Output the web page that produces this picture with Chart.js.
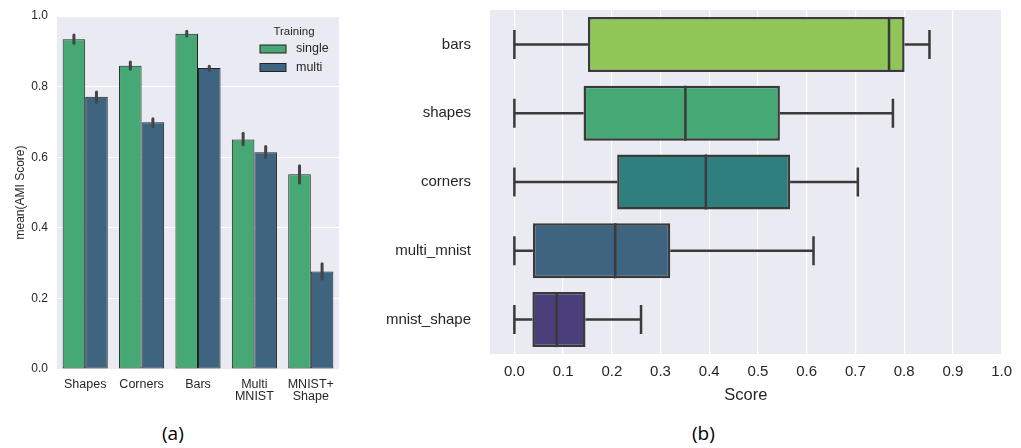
<!DOCTYPE html>
<html>
<head>
<meta charset="utf-8">
<script src="https://cdn.jsdelivr.net/npm/chart.js@4.4.1/dist/chart.umd.min.js"></script>
<style>
  body { margin: 0; background: #fff; width: 1021px; height: 448px; overflow: hidden; position: relative; }
  #left { position: absolute; left: 0; top: 0; }
  #right { position: absolute; left: 350px; top: 0; }
  .cap { position: absolute; top: 420px; font-family: "Open Sans", sans-serif; font-size: 19px; color: #000; }
</style>
</head>
<body>
<canvas id="left" width="350" height="410"></canvas>
<canvas id="right" width="671" height="410"></canvas>
<div class="cap" style="left:162px">(a)</div>
<div class="cap" style="left:692px">(b)</div>
<script>
// left panel: mean AMI score per dataset
const categories = ['Shapes', 'Corners', 'Bars', ['Multi', 'MNIST'], ['MNIST+', 'Shape']];
const singleMean = [0.934, 0.859, 0.950, 0.650, 0.552];
const singleLo = [0.923, 0.849, 0.943, 0.635, 0.527];
const singleHi = [0.946, 0.870, 0.957, 0.668, 0.576];
const multiMean = [0.771, 0.699, 0.853, 0.614, 0.276];
const multiLo = [0.756, 0.688, 0.846, 0.600, 0.255];
const multiHi = [0.785, 0.709, 0.858, 0.630, 0.298];
const yTicksLeft = [0.0, 0.2, 0.4, 0.6, 0.8, 1.0];

// right panel: score distribution per dataset
const boxLabels = ['bars', 'shapes', 'corners', 'multi_mnist', 'mnist_shape'];
const whiskLow = [0.0, 0.0, 0.0, 0.0, 0.0];
const q1 = [0.151, 0.142, 0.211, 0.038, 0.037];
const median = [0.769, 0.351, 0.393, 0.207, 0.087];
const q3 = [0.801, 0.545, 0.566, 0.320, 0.146];
const whiskHigh = [0.852, 0.777, 0.705, 0.614, 0.260];
const boxColors = ['#8fc657', '#46a875', '#2e7f7e', '#3e6480', '#4a3f7b'];
const scoreTicks = [0.0, 0.1, 0.2, 0.3, 0.4, 0.5, 0.6, 0.7, 0.8, 0.9, 1.0];

const FONT = '"Liberation Sans", Arial, sans-serif';
const TEXT = '#262626';
const BG = '#eaeaf2';

const plotBg = {
  id: 'plotBg',
  beforeDraw(chart) {
    const a = chart.chartArea, ctx = chart.ctx;
    ctx.save();
    ctx.fillStyle = BG;
    ctx.fillRect(a.left, a.top, a.right - a.left, a.bottom - a.top);
    ctx.restore();
  }
};

const errorBars = {
  id: 'errorBars',
  afterDatasetsDraw(chart) {
    const ctx = chart.ctx, y = chart.scales.y;
    const lows = [singleLo, multiLo], highs = [singleHi, multiHi];
    ctx.save();
    ctx.strokeStyle = '#444';
    ctx.lineWidth = 3;
    ctx.lineCap = 'round';
    chart.data.datasets.forEach((ds, d) => {
      chart.getDatasetMeta(d).data.forEach((bar, i) => {
        ctx.beginPath();
        ctx.moveTo(bar.x, y.getPixelForValue(lows[d][i]));
        ctx.lineTo(bar.x, y.getPixelForValue(highs[d][i]));
        ctx.stroke();
      });
    });
    ctx.restore();
  }
};

const legendBox = {
  id: 'legendBox',
  afterDraw(chart) {
    const ctx = chart.ctx;
    const a = chart.chartArea;
    const x0 = a.right - 79, y0 = a.top + 16;
    ctx.save();
    ctx.fillStyle = TEXT;
    ctx.font = '11.5px ' + FONT;
    ctx.textAlign = 'center';
    ctx.textBaseline = 'middle';
    ctx.fillText('Training', x0 + 34, y0);
    ctx.font = '12.5px ' + FONT;
    ctx.textAlign = 'left';
    chart.data.datasets.forEach((ds, i) => {
      const yy = y0 + 17 + i * 18.5;
      ctx.fillStyle = ds.backgroundColor;
      ctx.fillRect(x0, yy - 4, 26, 8);
      ctx.strokeStyle = '#222';
      ctx.lineWidth = 1;
      ctx.strokeRect(x0, yy - 4, 26, 8);
      ctx.fillStyle = TEXT;
      ctx.fillText(ds.label, x0 + 36, yy);
    });
    ctx.restore();
  }
};

new Chart(document.getElementById('left'), {
  type: 'bar',
  data: {
    labels: categories,
    datasets: [
      { label: 'single', data: singleMean, backgroundColor: '#46a875', borderColor: '#222', borderWidth: 1, borderSkipped: false },
      { label: 'multi', data: multiMean, backgroundColor: '#3e6480', borderColor: '#222', borderWidth: 1, borderSkipped: false }
    ]
  },
  options: {
    responsive: false,
    animation: false,
    layout: { padding: { top: 16, right: 11, bottom: 0, left: 0 } },
    datasets: { bar: { categoryPercentage: 0.8, barPercentage: 1.0 } },
    plugins: { legend: { display: false }, tooltip: { enabled: false } },
    scales: {
      x: {
        grid: { display: false },
        border: { display: false },
        ticks: { color: TEXT, font: { family: FONT, size: 12.5, lineHeight: 0.98 }, padding: 1, maxRotation: 0, autoSkip: false },
        afterFit(s) { s.height = 41; }
      },
      y: {
        min: 0, max: 1,
        afterBuildTicks(s) { s.ticks = yTicksLeft.map(v => ({ value: v })); },
        grid: { color: '#fff', lineWidth: 1, drawTicks: false },
        border: { display: false },
        ticks: { color: TEXT, font: { family: FONT, size: 12 }, padding: 9, callback: v => v.toFixed(1) },
        title: { display: true, text: 'mean(AMI Score)', color: TEXT, font: { family: FONT, size: 12 }, padding: { top: 13, bottom: 0 } },
        afterFit(s) { s.width = 57; s.paddingTop = 0; s.paddingBottom = 0; }
      }
    }
  },
  plugins: [plotBg, errorBars, legendBox]
});

const whiskers = {
  id: 'whiskers',
  beforeDatasetsDraw(chart) {
    const ctx = chart.ctx, x = chart.scales.x;
    const meta = chart.getDatasetMeta(0);
    ctx.save();
    ctx.strokeStyle = '#3a3a3a';
    ctx.lineWidth = 2.5;
    meta.data.forEach((bar, i) => {
      const yc = bar.y, cap = 14.5;
      const xl = x.getPixelForValue(whiskLow[i]), xh = x.getPixelForValue(whiskHigh[i]);
      ctx.beginPath();
      ctx.moveTo(xl, yc); ctx.lineTo(x.getPixelForValue(q1[i]), yc);
      ctx.moveTo(x.getPixelForValue(q3[i]), yc); ctx.lineTo(xh, yc);
      ctx.moveTo(xl, yc - cap); ctx.lineTo(xl, yc + cap);
      ctx.moveTo(xh, yc - cap); ctx.lineTo(xh, yc + cap);
      ctx.stroke();
    });
    ctx.restore();
  },
  afterDatasetsDraw(chart) {
    const ctx = chart.ctx, x = chart.scales.x;
    const meta = chart.getDatasetMeta(0);
    ctx.save();
    ctx.strokeStyle = '#3a3a3a';
    ctx.lineWidth = 2.5;
    meta.data.forEach((bar, i) => {
      const xm = x.getPixelForValue(median[i]);
      ctx.beginPath();
      ctx.moveTo(xm, bar.y - bar.height / 2);
      ctx.lineTo(xm, bar.y + bar.height / 2);
      ctx.stroke();
    });
    ctx.restore();
  }
};

new Chart(document.getElementById('right'), {
  type: 'bar',
  data: {
    labels: boxLabels,
    datasets: [{
      data: q1.map((v, i) => [v, q3[i]]),
      backgroundColor: boxColors,
      borderColor: '#3a3a3a',
      borderWidth: 2.5,
      borderSkipped: false
    }]
  },
  options: {
    indexAxis: 'y',
    responsive: false,
    animation: false,
    layout: { padding: { top: 10, right: 15, bottom: 0, left: 0 } },
    datasets: { bar: { categoryPercentage: 1.0, barPercentage: 0.8 } },
    plugins: { legend: { display: false }, tooltip: { enabled: false } },
    scales: {
      x: {
        min: -0.05, max: 1.0,
        afterBuildTicks(s) { s.ticks = scoreTicks.map(v => ({ value: v })); },
        grid: { color: '#fff', lineWidth: 1.2, drawTicks: false },
        border: { display: false },
        ticks: { color: TEXT, font: { family: FONT, size: 15 }, padding: 9, callback: v => v.toFixed(1) },
        title: { display: true, text: 'Score', color: TEXT, font: { family: FONT, size: 16.5 }, padding: { top: 2, bottom: 5 } },
        afterFit(s) { s.height = 56; }
      },
      y: {
        grid: { display: false },
        border: { display: false },
        ticks: { color: TEXT, font: { family: FONT, size: 15 }, padding: 11 },
        afterFit(s) { s.width = 140; s.paddingTop = 0; s.paddingBottom = 0; }
      }
    }
  },
  plugins: [plotBg, whiskers]
});
</script>
</body>
</html>
